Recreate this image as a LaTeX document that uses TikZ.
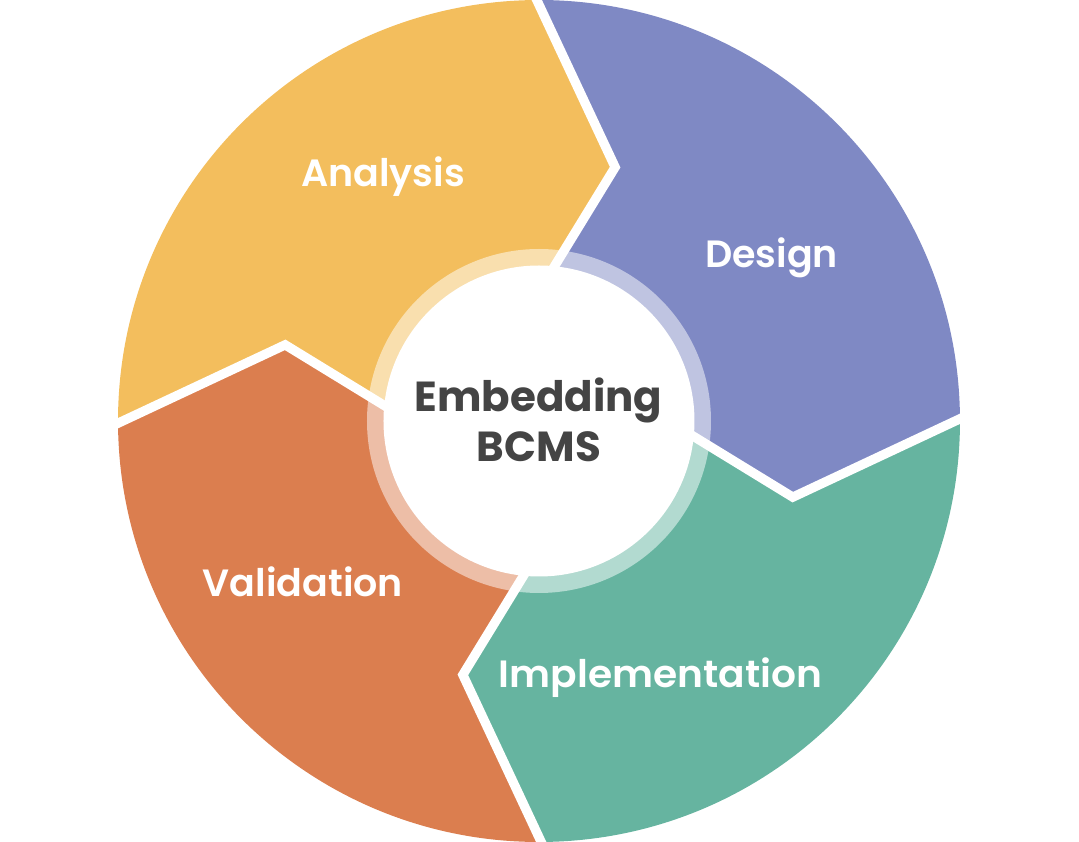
\documentclass[tikz,border=0pt]{standalone}
\usepackage{fontspec}
\setmainfont{Poppins}[UprightFont={* Medium},BoldFont={* SemiBold}]
\newfontfamily\hubfont{Poppins}[UprightFont={* Bold}]
\usetikzlibrary{calc}
\definecolor{cAna}{HTML}{F3BE5D}
\definecolor{cDes}{HTML}{7F89C4}
\definecolor{cImp}{HTML}{66B4A0}
\definecolor{cVal}{HTML}{DB7E4F}
\definecolor{cTxt}{HTML}{444444}
\tikzset{
  gapline/.style={white, line width=7pt, line join=miter, line cap=butt},
  phaselabel/.style={text=white, font=\bfseries\fontsize{28.5}{30}\selectfont, anchor=base, inner sep=0pt},
  hublabel/.style={text=cTxt, font=\hubfont\fontsize{31.5}{33}\selectfont, anchor=base, inner sep=0pt},
}
\newcommand\phaseseg[4]{%
  \fill[#4] (0,0) -- (I#1) -- (A#1) -- (O#1) arc[start angle=#3, delta angle=90, radius=421] -- (A#2) -- (I#2) -- cycle;
  \begin{scope}
    \clip (0,0) -- (I#1) -- (A#1) -- (O#1) arc[start angle=#3, delta angle=90, radius=421] -- (A#2) -- (I#2) -- cycle;
    \fill[#4!50!white] (0,0) circle[radius=172];
  \end{scope}}
\begin{document}
\begin{tikzpicture}[x=0.75pt,y=0.75pt]
\useasboundingbox (-539,-421) rectangle (540,421);
\foreach \k in {0,1,2,3}{
  \pgfmathsetmacro\t{0.3+90*\k}
  \coordinate (O\k) at (\t:421);
  \coordinate (A\k) at (\t-17:265);
  \coordinate (I\k) at (\t-5:150);
}
\coordinate (O4) at (O0);
\coordinate (A4) at (A0);
\coordinate (I4) at (I0);
\phaseseg{0}{1}{0.3}{cDes}
\phaseseg{1}{2}{90.3}{cAna}
\phaseseg{2}{3}{180.3}{cVal}
\phaseseg{3}{4}{270.3}{cImp}
\foreach \k in {0,1,2,3}{
  \draw[gapline] ($(A\k)!1.05!(I\k)$) -- (A\k) -- ($(A\k)!1.12!(O\k)$);
}
\fill[white] (0,0) circle[radius=155.5];
\node[phaselabel] (ana) at (-156,234) {Analysis};
\node[phaselabel] (des) at (232.5,153) {Design};
\node[phaselabel, xscale=1.03] (imp) at (121.5,-267) {Implementation};
\node[phaselabel] (val) at (-236,-176) {Validation};
\node[hublabel] (hub1) at (-0.5,9) {Embedding};
\node[hublabel] (hub2) at (0,-41) {BCMS};
\end{tikzpicture}
\end{document}
